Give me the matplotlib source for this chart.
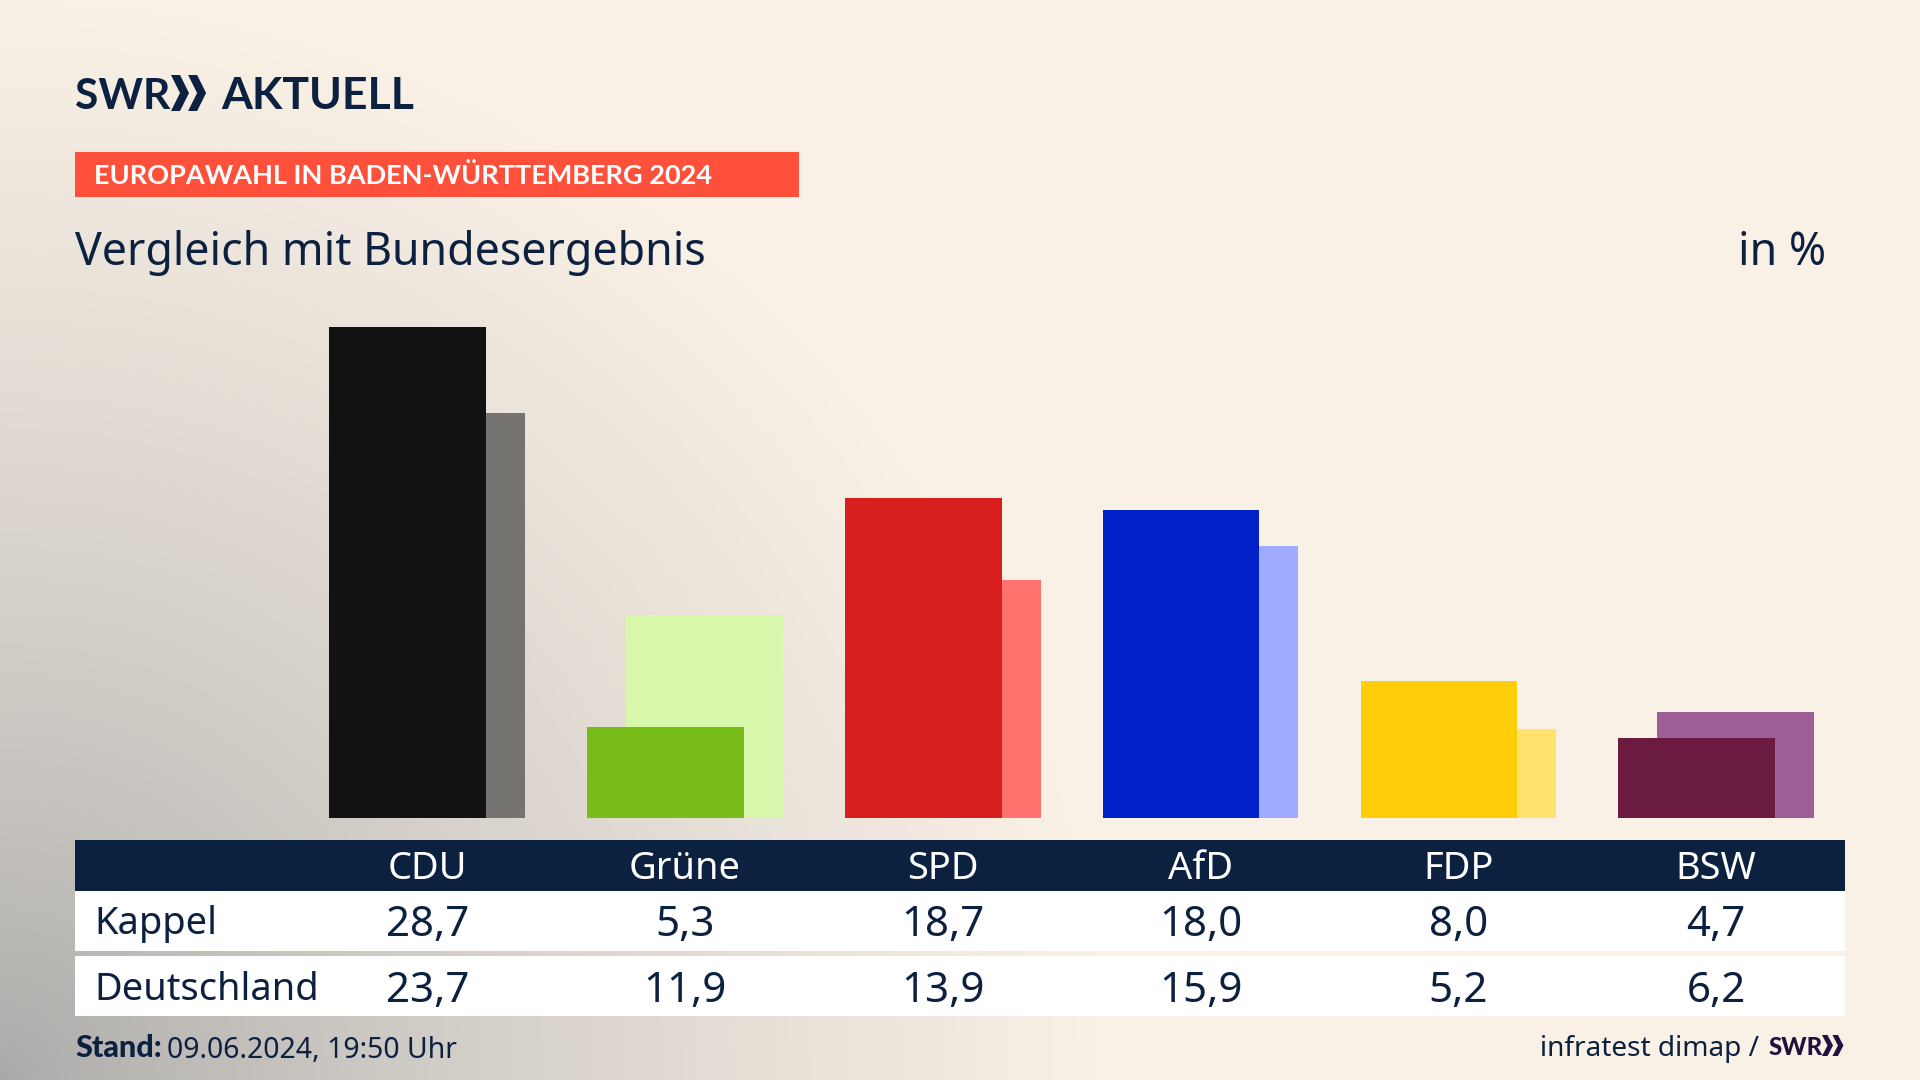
import numpy as np
import matplotlib
matplotlib.use("Agg")
import matplotlib.pyplot as plt
from matplotlib.patches import Rectangle, Polygon

parties = ["CDU", "Grüne", "SPD", "AfD", "FDP", "BSW"]
kappel = [28.7, 5.3, 18.7, 18.0, 8.0, 4.7]
deutschland = [23.7, 11.9, 13.9, 15.9, 5.2, 6.2]
colors_main = ["#121212", "#78BC1A", "#D91F1E", "#0020C8", "#FFCE0A", "#6B1A40"]
colors_light = ["#747370", "#D7F7AA", "#FF726E", "#9EABFF", "#FFE270", "#9C5E96"]

navy = "#0C2040"
font = "Noto Sans"
bold = "Lato"


def px(size):
    # font size given in pixels, figure is 100 dpi
    return size * 0.72


def comma(value):
    return "{:.1f}".format(value).replace(".", ",")


def chevrons(ax, x, top, bottom, width, color):
    mid = (top + bottom) / 2
    thick = width * 0.5
    for start in (x, x + width * 0.95):
        ax.add_patch(Polygon([(start, top), (start + thick, top), (start + width, mid),
                              (start + thick, bottom), (start, bottom), (start + width - thick, mid)],
                             closed=True, color=color, lw=0, zorder=3))


fig = plt.figure(figsize=(19.2, 10.8), dpi=100)

# background, dark corner at bottom left
yy, xx = np.mgrid[0:1080, 0:1920]
dist = np.sqrt((xx / 1100.0) ** 2 + ((1080 - yy) / 1080.0) ** 2)
t = np.clip(dist, 0, 1)[..., None] ** 0.75
dark = np.array([168, 168, 167]) / 255.0
cream = np.array([250, 241, 230]) / 255.0
bg = fig.add_axes([0, 0, 1, 1], zorder=0)
bg.imshow(dark * (1 - t) + cream * t, extent=(0, 1920, 1080, 0), aspect="auto")
bg.set_xlim(0, 1920)
bg.set_ylim(1080, 0)
bg.axis("off")

# banner
bg.add_patch(Rectangle((75, 152), 724, 45, color="#FF503C", lw=0))
bg.text(94, 184, "EUROPAWAHL IN BADEN-WÜRTTEMBERG 2024", color="white", family=bold,
        weight="bold", fontsize=px(27.1), va="baseline")

# logo
bg.text(75, 109, "SWR", color=navy, family=bold, weight="bold", fontsize=px(42.5), va="baseline")
chevrons(bg, 171, 75, 111, 18, navy)
bg.text(221, 109, "AKTUELL", color=navy, family=bold, weight="bold", fontsize=px(44.5), va="baseline")

# title
bg.text(75, 265, "Vergleich mit Bundesergebnis", color=navy, family=font, fontsize=px(44.7), va="baseline")
bg.text(1826, 265, "in %", color=navy, family=font, fontsize=px(44.7), va="baseline", ha="right")

# table
bg.add_patch(Rectangle((75, 840), 1770, 51, color=navy, lw=0))
bg.add_patch(Rectangle((75, 891), 1770, 60, color="white", lw=0))
bg.add_patch(Rectangle((75, 956), 1770, 60, color="white", lw=0))
bg.text(94, 934, "Kappel", color=navy, family=font, fontsize=px(38), va="baseline")
bg.text(94, 1000, "Deutschland", color=navy, family=font, fontsize=px(38), va="baseline")

# footer
bg.text(75, 1057, "Stand:", color=navy, family=bold, weight="black", fontsize=px(30.5), va="baseline")
bg.text(167, 1058, "09.06.2024, 19:50 Uhr", color=navy, family=font, fontsize=px(28.4), va="baseline")
bg.text(1759, 1056, "infratest dimap /", color=navy, family=font, fontsize=px(28), va="baseline", ha="right")
bg.text(1769, 1055, "SWR", color="#22103F", family=bold, weight="black", fontsize=px(24), va="baseline")
chevrons(bg, 1822, 1035, 1056, 11, "#22103F")

# bars, x axis runs over the six table columns
ax = fig.add_axes([298.3 / 1920, 1 - 818 / 1080, 1546.8 / 1920, 513 / 1080], zorder=1)
ax.patch.set_alpha(0)
x = np.arange(len(parties))
ax.bar(x + 0.0756, deutschland, width=0.607, color=colors_light, zorder=1)
ax.bar(x - 0.0756, kappel, width=0.607, color=colors_main, zorder=2)
ax.set_xlim(-0.5, 5.5)
ax.set_ylim(0, 30)
ax.axis("off")

# column values, same x scale as the bars
cols = bg.transData.inverted().transform(ax.transData.transform(np.column_stack([x, np.zeros(6)])))[:, 0]
for i in range(len(parties)):
    bg.text(cols[i], 879, parties[i], color="white", family=font, fontsize=px(38), ha="center", va="baseline")
    bg.text(cols[i], 936, comma(kappel[i]), color=navy, family=font, fontsize=px(42), ha="center", va="baseline")
    bg.text(cols[i], 1002, comma(deutschland[i]), color=navy, family=font, fontsize=px(42), ha="center", va="baseline")

fig.savefig("out.png", dpi=100)
